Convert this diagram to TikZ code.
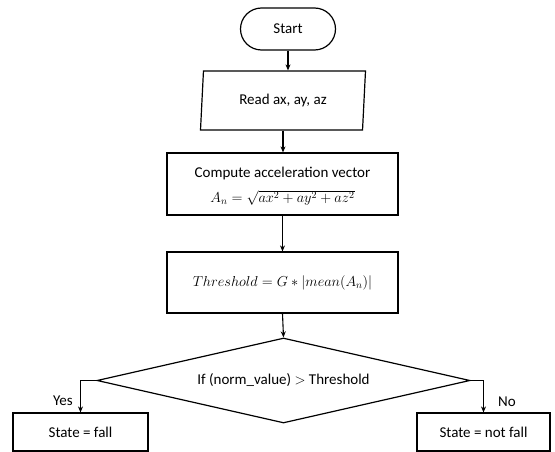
\documentclass[tikz,border=0pt]{standalone}
\usepackage{fontspec}
\setmainfont{Carlito}
\usetikzlibrary{shapes.geometric,arrows.meta}
\begin{document}
\begin{tikzpicture}[x=1pt,y=-1pt,
  every node/.style={font=\fontsize{15}{18}\selectfont},
  box/.style={draw=black,line width=1.2pt,inner sep=2pt,align=center},
  arr/.style={draw=black,line width=1.1pt,-{Stealth[length=6pt,width=5pt]}},
  lbl/.style={inner sep=0pt}]
\useasboundingbox (0,0) rectangle (555,452);
\node[box,rounded corners=21pt,minimum width=95pt,minimum height=42pt] (start) at (288,29) {Start};
\node[box,trapezium,trapezium left angle=80,trapezium right angle=100,trapezium stretches body,minimum width=165pt,minimum height=59pt] (read) at (283,100.5) {Read ax, ay, az};
\node[box,minimum width=231pt,minimum height=62pt] (compute) at (282.5,184) {};
\node[lbl] (computet) at (282.5,174) {Compute acceleration vector};
\node[lbl,font=\fontsize{14.5}{17}\selectfont] (computem) at (282.5,198) {$A_n=\sqrt{ax^2+ay^2+az^2}$};
\node[box,minimum width=231pt,minimum height=61pt] (thr) at (282.5,282.5) {\fontsize{14}{17}\selectfont $Threshold=G*|mean(A_n)|$};
\node[box,diamond,aspect=4.39,minimum width=373pt,minimum height=85pt,inner sep=0pt] (dec) at (283.5,380.5) {If (norm\_value) $>$ Threshold};
\node[box,minimum width=135pt,minimum height=38pt] (fall) at (80.5,432) {State = fall};
\node[box,minimum width=133pt,minimum height=38pt] (nofall) at (483.5,432) {State = not fall};
\draw[arr] (start.south) -- (start.south |- read.north);
\draw[arr] (read.south) -- (read.south |- compute.north);
\draw[arr] (compute.south) -- (thr.north);
\draw[arr] (thr.south) -- (dec.north);
\draw[arr] (dec.west) -| (fall.north);
\draw[arr] (dec.east) -| (nofall.north);
\node[lbl] (yes) at (63,401) {Yes};
\node[lbl] (no) at (507,402) {No};
\end{tikzpicture}
\end{document}
